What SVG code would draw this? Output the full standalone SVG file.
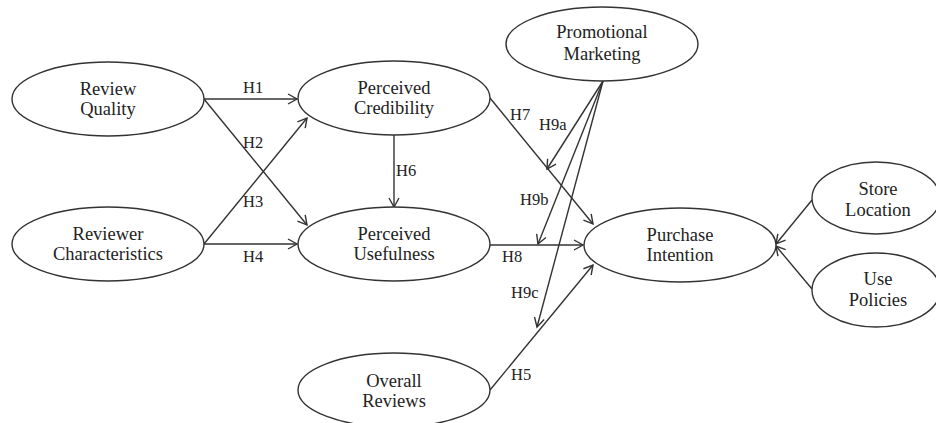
<svg xmlns="http://www.w3.org/2000/svg" width="936" height="423" viewBox="0 0 936 423">
<style>
.node ellipse{fill:#fff;stroke:#333;stroke-width:1.4}
.node text{font-family:'Liberation Serif','DejaVu Serif',serif;font-size:18.5px;fill:#222;text-anchor:middle}
.conn line{stroke:#333;stroke-width:1.4}
.lbl{font-family:'Liberation Serif','DejaVu Serif',serif;font-size:16.5px;fill:#222}
</style>
<defs>
<marker id="arr" markerUnits="userSpaceOnUse" markerWidth="12" markerHeight="12" refX="10" refY="6" orient="auto" viewBox="0 0 12 12">
<path d="M1,1 L10,6 L1,11" fill="none" stroke="#333" stroke-width="1.4"/>
</marker>
</defs>
<rect width="936" height="423" fill="#fff"/>
<g id="connectors" class="conn">
<line x1="204" y1="99" x2="297" y2="99" marker-end="url(#arr)"/>
<line x1="204" y1="99" x2="307" y2="225" marker-end="url(#arr)"/>
<line x1="204" y1="244" x2="307" y2="118" marker-end="url(#arr)"/>
<line x1="204" y1="244" x2="297" y2="244" marker-end="url(#arr)"/>
<line x1="394" y1="135" x2="394" y2="207" marker-end="url(#arr)"/>
<line x1="490" y1="98" x2="593" y2="224" marker-end="url(#arr)"/>
<line x1="490" y1="245" x2="583" y2="245" marker-end="url(#arr)"/>
<line x1="490" y1="390" x2="593" y2="265" marker-end="url(#arr)"/>
<line x1="603" y1="81" x2="547" y2="169" marker-end="url(#arr)"/>
<line x1="603" y1="81" x2="538" y2="244" marker-end="url(#arr)"/>
<line x1="603" y1="81" x2="537" y2="327" marker-end="url(#arr)"/>
<line x1="812" y1="200" x2="776" y2="244" marker-end="url(#arr)"/>
<line x1="812" y1="289" x2="776" y2="246" marker-end="url(#arr)"/>
</g>
<g id="labels">
<text class="lbl" x="243" y="93">H1</text>
<text class="lbl" x="243" y="148">H2</text>
<text class="lbl" x="243" y="207">H3</text>
<text class="lbl" x="243" y="262">H4</text>
<text class="lbl" x="396" y="176">H6</text>
<text class="lbl" x="510" y="120">H7</text>
<text class="lbl" x="539" y="130">H9a</text>
<text class="lbl" x="520" y="205">H9b</text>
<text class="lbl" x="502" y="262">H8</text>
<text class="lbl" x="511" y="298">H9c</text>
<text class="lbl" x="511" y="380">H5</text>
</g>
<g id="review-quality" class="node">
<ellipse cx="108" cy="99" rx="96" ry="37"/>
<text x="108" y="95">Review</text>
<text x="108" y="115">Quality</text>
</g>
<g id="reviewer-characteristics" class="node">
<ellipse cx="108" cy="244" rx="96" ry="37"/>
<text x="108" y="240">Reviewer</text>
<text x="108" y="260">Characteristics</text>
</g>
<g id="perceived-credibility" class="node">
<ellipse cx="394" cy="98" rx="96" ry="37"/>
<text x="394" y="94">Perceived</text>
<text x="394" y="114">Credibility</text>
</g>
<g id="perceived-usefulness" class="node">
<ellipse cx="394" cy="244" rx="96" ry="37"/>
<text x="394" y="240">Perceived</text>
<text x="394" y="260">Usefulness</text>
</g>
<g id="promotional-marketing" class="node">
<ellipse cx="602" cy="44" rx="96" ry="37"/>
<text x="602" y="38">Promotional</text>
<text x="602" y="60">Marketing</text>
</g>
<g id="purchase-intention" class="node">
<ellipse cx="680" cy="245" rx="96" ry="37"/>
<text x="680" y="241">Purchase</text>
<text x="680" y="261">Intention</text>
</g>
<g id="store-location" class="node">
<ellipse cx="876" cy="198" rx="64" ry="36"/>
<text x="878" y="195">Store</text>
<text x="878" y="216">Location</text>
</g>
<g id="use-policies" class="node">
<ellipse cx="876" cy="290" rx="64" ry="37"/>
<text x="878" y="285">Use</text>
<text x="878" y="306">Policies</text>
</g>
<g id="overall-reviews" class="node">
<ellipse cx="394" cy="390" rx="96" ry="37"/>
<text x="394" y="387">Overall</text>
<text x="394" y="407">Reviews</text>
</g>
</svg>
